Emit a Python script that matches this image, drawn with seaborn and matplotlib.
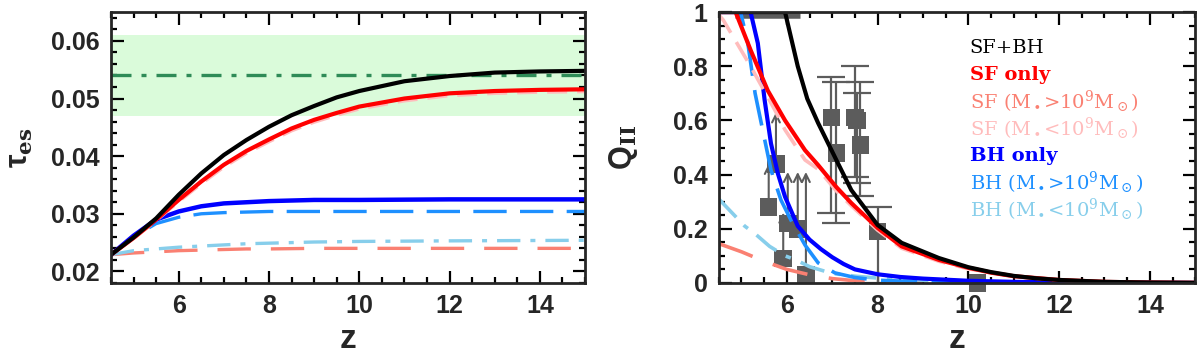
import numpy as np
import pandas as pd
import matplotlib
matplotlib.use('Agg')
import matplotlib.pyplot as plt
from matplotlib.ticker import MultipleLocator
import seaborn as sns

# ---- pannello sinistro: tau_es(z) ----
z_sfbh = [4.5, 5.0, 5.5, 6.0, 6.5, 7.0, 7.5, 8.0, 8.5, 9.0, 9.5, 10.0, 11.0, 12.0, 13.0, 14.0, 15.0]
tau_sfbh = [0.0229, 0.0259, 0.0292, 0.0333, 0.0370, 0.0402, 0.0428, 0.0451, 0.0471, 0.0487,
            0.0502, 0.0513, 0.0530, 0.0539, 0.0545, 0.0547, 0.0548]
tau_sf = [0.0229, 0.0258, 0.0290, 0.0324, 0.0356, 0.0385, 0.0409, 0.0429, 0.0448, 0.0463,
          0.0475, 0.0486, 0.0500, 0.0509, 0.0513, 0.0515, 0.0516]
tau_sf_low = [0.0229, 0.0257, 0.0288, 0.0321, 0.0352, 0.0381, 0.0405, 0.0425, 0.0444, 0.0459,
              0.0471, 0.0482, 0.0496, 0.0505, 0.0509, 0.0511, 0.0512]
z_small = [4.5, 5.0, 5.5, 6.0, 6.5, 7.0, 7.5, 8.0, 9.0, 10.0, 12.0, 15.0]
tau_bh = [0.0229, 0.0262, 0.0290, 0.0304, 0.0313, 0.0318, 0.0320, 0.0322, 0.0324, 0.0324, 0.0325, 0.0325]
tau_bh_high = [0.0229, 0.0260, 0.0283, 0.0294, 0.0300, 0.0302, 0.0303, 0.0304, 0.0304, 0.0304, 0.0304, 0.0304]
tau_bh_low = [0.0229, 0.0236, 0.0239, 0.0242, 0.0244, 0.0246, 0.0248, 0.0249, 0.0251, 0.0252, 0.0253, 0.0254]
tau_sf_high = [0.0229, 0.0232, 0.0234, 0.0236, 0.0237, 0.0238, 0.0239, 0.0239, 0.0240, 0.0240, 0.0240, 0.0240]

# Planck
tau_planck = 0.054
tau_planck_lo = 0.047
tau_planck_hi = 0.061

# ---- pannello destro: Q_II(z) ----
zq_sfbh = [4.5, 5.96, 6.1, 6.24, 6.45, 6.69, 7.09, 7.42, 8.0, 8.53, 9.35, 10.0, 10.5, 11.0, 11.5, 12.0, 13.0, 14.0, 15.0]
q_sfbh = [1.0, 1.0, 0.90, 0.80, 0.68, 0.59, 0.454, 0.343, 0.214, 0.148, 0.092, 0.058, 0.040, 0.026,
          0.017, 0.011, 0.004, 0.0015, 0.0005]
zq_sf = [4.5, 4.87, 5.2, 5.58, 5.96, 6.4, 6.69, 7.09, 7.42, 8.0, 8.53, 9.35, 10.0, 10.5, 11.0, 12.0, 13.0, 14.0, 15.0]
q_sf = [1.0, 1.0, 0.86, 0.71, 0.60, 0.49, 0.435, 0.354, 0.295, 0.203, 0.135, 0.085, 0.056, 0.038,
        0.025, 0.011, 0.004, 0.0015, 0.0005]
zq_sf_low = [4.5, 4.6, 5.2, 5.73, 5.96, 6.4, 6.69, 7.09, 7.42, 8.0, 8.53, 9.35, 10.0, 11.0, 12.0, 13.0, 15.0]
q_sf_low = [0.99, 0.97, 0.80, 0.64, 0.565, 0.454, 0.42, 0.34, 0.285, 0.195, 0.128, 0.08, 0.052,
            0.024, 0.010, 0.004, 0.0005]
zq_sf_high = [4.5, 5.0, 5.5, 6.0, 6.5, 7.0, 7.5, 8.0, 9.0, 15.0]
q_sf_high = [0.145, 0.115, 0.08, 0.05, 0.03, 0.016, 0.008, 0.004, 0.001, 0.0]
zq_bh = [4.5, 5.2, 5.36, 5.51, 5.65, 5.8, 5.96, 6.24, 6.5, 6.75, 7.0, 7.25, 7.5, 8.0, 8.5, 9.0, 10.0, 11.0, 12.0, 15.0]
q_bh = [1.0, 1.0, 0.885, 0.675, 0.515, 0.405, 0.318, 0.21, 0.16, 0.125, 0.095, 0.07, 0.05, 0.032,
        0.022, 0.016, 0.008, 0.004, 0.002, 0.0]
zq_bh_high = [4.5, 4.98, 5.14, 5.3, 5.51, 5.65, 5.87, 6.09, 6.4, 6.69, 7.06, 7.5, 8.0, 9.0, 10.0, 15.0]
q_bh_high = [1.0, 1.0, 0.885, 0.70, 0.53, 0.417, 0.306, 0.232, 0.14, 0.074, 0.037, 0.02, 0.01,
             0.004, 0.002, 0.0]
zq_bh_low = [4.5, 5.07, 5.31, 5.62, 5.96, 6.2, 6.5, 7.0, 7.5, 8.0, 9.0, 10.0, 11.0, 12.0, 15.0]
q_bh_low = [0.31, 0.21, 0.18, 0.135, 0.10, 0.085, 0.06, 0.035, 0.025, 0.018, 0.010, 0.006, 0.003,
            0.001, 0.0]

# osservazioni
obs_z = [6.98, 7.09, 7.50, 7.55, 7.62, 8.0, 10.2]
obs_q = [0.61, 0.48, 0.61, 0.60, 0.51, 0.19, 0.0]
obs_lo = [0.26, 0.22, 0.39, 0.37, 0.32, 0.0, 0.0]
obs_hi = [0.76, 0.74, 0.80, 0.70, 0.74, 0.28, 0.0]
lim_z = [5.60, 5.76, 5.92, 6.02, 6.24, 6.42]
lim_q = [0.28, 0.44, 0.09, 0.22, 0.20, 0.03]
lim_top = [0.45, 0.64, 0.27, 0.42, 0.42, 0.42]
full_zmin, full_zmax = 4.85, 6.3

labels = ['SF+BH', 'SF only', r'SF (M$_\bullet$>10$^9$M$_\odot$)', r'SF (M$_\bullet$<10$^9$M$_\odot$)',
          'BH only', r'BH (M$_\bullet$>10$^9$M$_\odot$)', r'BH (M$_\bullet$<10$^9$M$_\odot$)']
weights = ['normal', 'bold', 'normal', 'normal', 'bold', 'normal', 'normal']
colors = ['black', '#ff0000', '#fa8072', '#ffbcbc', '#0000ff', '#1e90ff', '#87ceeb']
gray = '#5c5c5c'

sns.set_style('ticks')
plt.rcParams['font.family'] = ['Liberation Sans', 'DejaVu Sans']
plt.rcParams['mathtext.fontset'] = 'dejavuserif'

fig = plt.figure(figsize=(12, 3.55), dpi=100)
ax1 = fig.add_axes([0.0925, 0.203, 0.395, 0.763])
ax2 = fig.add_axes([0.599, 0.203, 0.397, 0.763])

# sinistra
ax1.axhspan(tau_planck_lo, tau_planck_hi, color='#dafbda', lw=0, zorder=0)
ax1.axhline(tau_planck, color='#2e8b57', lw=2.4, ls=(0, (6, 3, 1.5, 3)), zorder=1)
sns.lineplot(x=z_small, y=tau_sf_high, ax=ax1, color=colors[2], lw=2.4, ls=(0, (10, 6)))
sns.lineplot(x=z_small, y=tau_bh_low, ax=ax1, color=colors[6], lw=2.4, ls=(0, (7, 3, 1.5, 3)))
sns.lineplot(x=z_small, y=tau_bh_high, ax=ax1, color=colors[5], lw=2.4, ls=(0, (10, 4)))
sns.lineplot(x=z_small, y=tau_bh, ax=ax1, color=colors[4], lw=3.2)
sns.lineplot(x=z_sfbh, y=tau_sf_low, ax=ax1, color=colors[3], lw=2.4, ls=(0, (6, 3)))
sns.lineplot(x=z_sfbh, y=tau_sf, ax=ax1, color=colors[1], lw=3.0)
sns.lineplot(x=z_sfbh, y=tau_sfbh, ax=ax1, color=colors[0], lw=3.0)
ax1.set_xlim(4.5, 15)
ax1.set_ylim(0.018, 0.065)
ax1.xaxis.set_minor_locator(MultipleLocator(0.5))
ax1.set_yticks([0.02, 0.03, 0.04, 0.05, 0.06])
ax1.set_yticklabels(['0.02', '0.03', '0.04', '0.05', '0.06'])
ax1.yaxis.set_minor_locator(MultipleLocator(0.002))
ax1.set_ylabel(r'τ$_{\mathbf{es}}$', fontsize=22, fontweight='bold')
ax1.yaxis.set_label_coords(-0.16, 0.5)

# destra
ax2.hlines([1.0], [full_zmin], [full_zmax], color=gray, lw=9, zorder=1)
for z, q, top in zip(lim_z, lim_q, lim_top):
    ax2.annotate('', xy=(z, top), xytext=(z, q),
                 arrowprops=dict(arrowstyle='->', color=gray, lw=1.5, mutation_scale=14), zorder=1)
ax2.errorbar(obs_z, obs_q, yerr=[np.array(obs_q) - np.array(obs_lo), np.array(obs_hi) - np.array(obs_q)],
             fmt='none', ecolor=gray, elinewidth=1.6, capsize=10, capthick=1.6, zorder=1)
sns.scatterplot(x=obs_z + lim_z, y=obs_q + lim_q, ax=ax2, marker='s', s=160, color=gray,
                edgecolor='none', zorder=2, clip_on=False)

sns.lineplot(x=zq_sf_high, y=q_sf_high, ax=ax2, color=colors[2], lw=2.6, ls=(0, (10, 6)))
sns.lineplot(x=zq_bh_low, y=q_bh_low, ax=ax2, color=colors[6], lw=2.6, ls=(0, (7, 3, 1.5, 3)))
sns.lineplot(x=zq_bh_high, y=q_bh_high, ax=ax2, color=colors[5], lw=2.6, ls=(0, (10, 4)))
sns.lineplot(x=zq_bh, y=q_bh, ax=ax2, color=colors[4], lw=3.0)
sns.lineplot(x=zq_sf_low, y=q_sf_low, ax=ax2, color=colors[3], lw=2.6, ls=(0, (6, 3)))
sns.lineplot(x=zq_sf, y=q_sf, ax=ax2, color=colors[1], lw=3.0)
sns.lineplot(x=zq_sfbh, y=q_sfbh, ax=ax2, color=colors[0], lw=3.0)
ax2.set_xlim(4.5, 15)
ax2.set_ylim(0, 1)
ax2.xaxis.set_minor_locator(MultipleLocator(0.5))
ax2.set_yticks([0, 0.2, 0.4, 0.6, 0.8, 1.0])
ax2.set_yticklabels(['0', '0.2', '0.4', '0.6', '0.8', '1'])
ax2.yaxis.set_minor_locator(MultipleLocator(0.05))
ax2.set_ylabel(r'Q$_{\mathbf{II}}$', fontsize=22, fontweight='bold')
ax2.yaxis.set_label_coords(-0.165, 0.5)

for i, (lab, c, w) in enumerate(zip(labels, colors, weights)):
    ax2.text(0.527, 0.867 - i * 0.0995, lab, color=c, transform=ax2.transAxes,
             fontsize=14, family='DejaVu Serif', fontweight=w, va='center', ha='left')

for ax in (ax1, ax2):
    ax.set_xlabel('z', fontsize=24, fontweight='bold', labelpad=4)
    ax.set_xticks([6, 8, 10, 12, 14])
    ax.tick_params(which='both', direction='in', top=True, right=True, width=1.6, color='black')
    ax.tick_params(which='major', length=9, labelsize=18, pad=8)
    ax.tick_params(which='minor', length=4.5)
    for t in ax.get_xticklabels() + ax.get_yticklabels():
        t.set_fontweight('bold')
    for s in ax.spines.values():
        s.set_visible(True)
        s.set_linewidth(2.0)
        s.set_zorder(5)

fig.savefig('out.png', dpi=100)
